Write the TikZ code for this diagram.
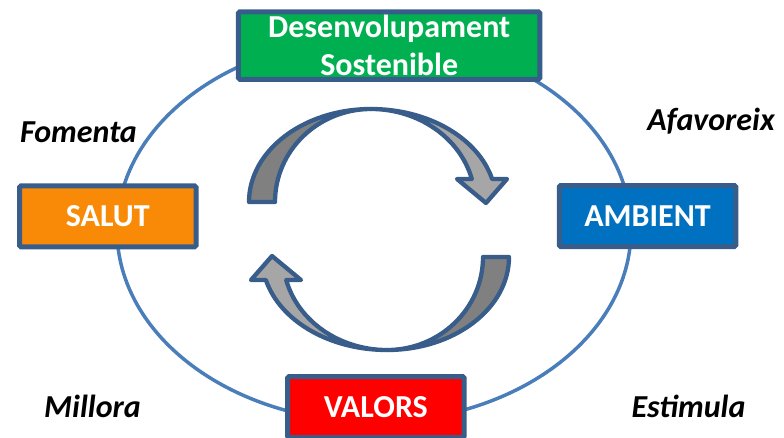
\documentclass[tikz,border=0pt]{standalone}
\usepackage{fontspec}
\setmainfont{Carlito}
\definecolor{bord}{HTML}{385D8A}
\definecolor{ellc}{HTML}{4A7EBB}
\definecolor{cgreen}{HTML}{00B050}
\definecolor{corange}{HTML}{F98A07}
\definecolor{cblue}{HTML}{0070C0}
\definecolor{cred}{HTML}{FF0000}
\definecolor{darkg}{HTML}{808080}
\definecolor{lightg}{HTML}{A6A6A6}
\tikzset{
 cyclearrow/.pic={
   \filldraw[arr, fill=darkg] (0,-93) arc[start angle=270, end angle=180, x radius=122, y radius=93]
     -- (-96,0) arc[start angle=180, end angle=270, x radius=96, y radius=93] -- cycle;
   \filldraw[arr, fill=lightg] (0,-93) arc[start angle=270, end angle=345.68, x radius=125, y radius=93]
     -- (136,-23) -- (115,1) -- (86,-23) -- (100.8,-23)
     arc[start angle=345.68, end angle=270, x radius=104, y radius=93] -- cycle;
 }
}
\begin{document}
\begin{tikzpicture}[x=1pt,y=-1pt,
 box/.style={draw=bord, line width=5pt, rounded corners=1.5pt, text=white,
   font=\bfseries\fontsize{32}{38}\selectfont, inner sep=0pt,
   minimum width=176.5pt, minimum height=61pt, align=center},
 verb/.style={font=\bfseries\itshape\fontsize{32}{36}\selectfont, anchor=base, inner sep=0pt},
 ell/.style={draw=ellc, line width=3.5pt},
 arr/.style={draw=bord, line width=4.3pt, line join=round}]
\useasboundingbox (0,0) rectangle (784,437);
\clip (0,0) rectangle (784,437);
\draw[ell] (374,230) ellipse [x radius=257, y radius=192];
\node[box, fill=cgreen, minimum width=301.5pt, minimum height=67.5pt] (des) at (389.2,45.5) {Desenvolupament\\Sostenible};
\node[box, fill=corange] (salut) at (107.8,216.4) {SALUT};
\node[box, fill=cblue] (amb) at (647.5,216) {AMBIENT};
\node[box, fill=cred] (val) at (375.8,407) {VALORS};
\pic at (371,202) {cyclearrow};
\pic[rotate=180] at (387,257) {cyclearrow};
\node[verb] (fom) at (78.5,142) {Fomenta};
\node[verb] (afa) at (711,130) {Afavoreix};
\node[verb] (mil) at (92.5,417) {Millora};
\node[verb] (est) at (688.5,417) {Estimula};
\end{tikzpicture}
\end{document}
